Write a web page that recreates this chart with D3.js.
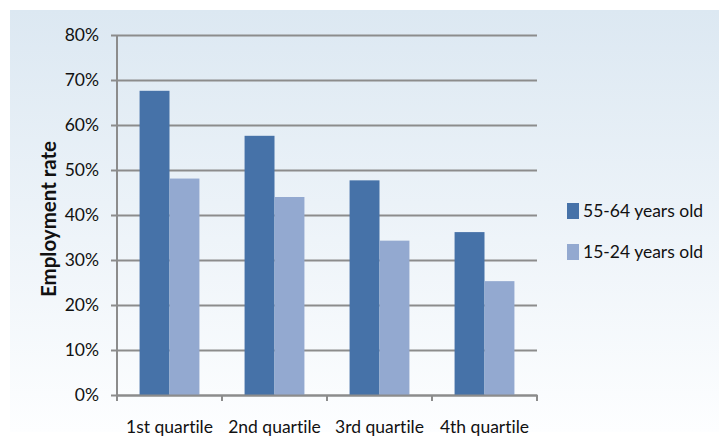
<!DOCTYPE html>
<html>
<head>
<meta charset="utf-8">
<script src="https://cdn.jsdelivr.net/npm/d3@7"></script>
<style>
  body { margin: 0; background: #fff; }
  text { font-family: Lato, "Open Sans", sans-serif; fill: #111; font-variant-ligatures: none; font-feature-settings: "liga" 0, "clig" 0, "calt" 0, "dlig" 0; }
</style>
</head>
<body>
<div id="chart"></div>
<script>
const categories = ["1st quartile", "2nd quartile", "3rd quartile", "4th quartile"];
const seriesNames = ["55-64 years old", "15-24 years old"];
const olderValues = [0.676, 0.576, 0.477, 0.362];
const youngValues = [0.481, 0.440, 0.343, 0.253];
const yTicks = [0, 0.1, 0.2, 0.3, 0.4, 0.5, 0.6, 0.7, 0.8];
const colors = ["#4672a8", "#93a9d0"];

const width = 720;
const height = 436;
const margin = { top: 35, right: 183, bottom: 41, left: 117 };

const svg = d3
  .select("#chart")
  .append("svg")
  .attr("width", width)
  .attr("height", height);

// Background gradient

const grad = svg.append("defs").append("linearGradient")
  .attr("id", "bg")
  .attr("x1", 0).attr("y1", 0).attr("x2", 0).attr("y2", 1);
grad.append("stop").attr("offset", "0%").attr("stop-color", "#dce8f2");
grad.append("stop").attr("offset", "100%").attr("stop-color", "#fdfeff");

svg.append("rect")
  .attr("x", 10).attr("y", 10)
  .attr("width", 709).attr("height", 422)
  .attr("fill", "url(#bg)");

const xScale = d3
  .scaleBand()
  .domain(categories)
  .range([margin.left, width - margin.right])
  .paddingInner(0.43)
  .paddingOuter(0.215);

const xSub = d3
  .scaleBand()
  .domain(seriesNames)
  .range([0, xScale.bandwidth()]);

const yScale = d3
  .scaleLinear()
  .domain([0, 0.8])
  .range([height - margin.bottom, margin.top]);

// Gridlines + y axis

svg
  .append("g")
  .attr("transform", `translate(${margin.left}, 0)`)
  .call(
    d3.axisLeft(yScale)
      .tickValues(yTicks)
      .tickFormat(d3.format(".0%"))
      .tickSize(-(width - margin.left - margin.right))
      .tickPadding(18)
  )
  .call((g) => g.select(".domain").remove())
  .call((g) => g.selectAll("line").attr("stroke", "#8c8c8c").attr("stroke-width", 2).attr("x1", -6))
  .call((g) => g.selectAll("text").style("font-size", "17.5px").attr("fill", "#111"));

// Bars

const groups = svg
  .selectAll("g.group")
  .data(categories)
  .enter()
  .append("g")
  .attr("class", "group")
  .attr("transform", (d) => `translate(${xScale(d)}, 0)`);

groups
  .selectAll("rect")
  .data((d, i) => [
    { key: seriesNames[0], value: olderValues[i] },
    { key: seriesNames[1], value: youngValues[i] },
  ])
  .enter()
  .append("rect")
  .attr("x", (d) => xSub(d.key))
  .attr("y", (d) => yScale(d.value))
  .attr("width", xSub.bandwidth())
  .attr("height", (d) => yScale(0) - yScale(d.value))
  .style("fill", (d, i) => colors[i]);

// x axis

svg
  .append("g")
  .attr("transform", `translate(0, ${height - margin.bottom})`)
  .call(
    d3.axisBottom(xScale).tickSize(0).tickPadding(26)
  )
  .call((g) => g.select(".domain").attr("stroke", "#8c8c8c").attr("stroke-width", 2))
  .call((g) => g.selectAll("text").style("font-size", "17.5px").attr("fill", "#111"));

const step = xScale.step();
const boundaries = d3.range(categories.length + 1).map((i) => margin.left + i * step);
svg
  .append("g")
  .selectAll("line")
  .data(boundaries)
  .enter()
  .append("line")
  .attr("x1", (d) => d)
  .attr("x2", (d) => d)
  .attr("y1", yScale(0))
  .attr("y2", yScale(0) + 6)
  .attr("stroke", "#8c8c8c")
  .attr("stroke-width", 2);

// y axis line
svg.append("line")
  .attr("x1", margin.left).attr("x2", margin.left)
  .attr("y1", yScale(0.8)).attr("y2", yScale(0))
  .attr("stroke", "#8c8c8c").attr("stroke-width", 2);

svg
  .append("text")
  .attr("x", -219)
  .attr("y", 56)
  .attr("transform", "rotate(-90)")
  .attr("text-anchor", "middle")
  .style("font-weight", "bold")
  .style("font-size", "20.5px")
  .text("Employment rate");

// Legend

const legend = svg
  .selectAll("g.legend")
  .data(seriesNames)
  .enter()
  .append("g")
  .attr("class", "legend")
  .attr("transform", (d, i) => `translate(567, ${203 + i * 41})`);

legend.append("rect")
  .attr("width", 12)
  .attr("height", 16)
  .style("fill", (d, i) => colors[i]);

legend.append("text")
  .attr("x", 16)
  .attr("y", 14)
  .style("font-size", "17.5px")
  .text((d) => d);
</script>
</body>
</html>
